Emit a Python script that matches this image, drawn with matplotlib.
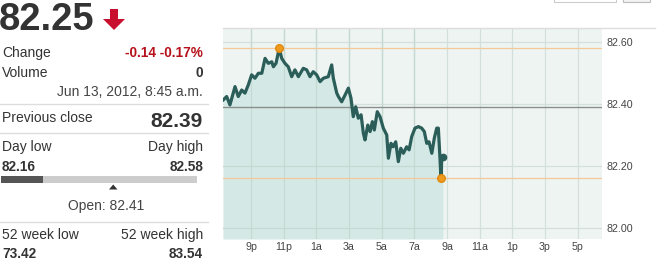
import matplotlib
matplotlib.use("Agg")
import matplotlib.pyplot as plt
from matplotlib.patches import Rectangle, Polygon
from matplotlib.lines import Line2D

plt.rcParams['font.family'] = ['Liberation Sans', 'DejaVu Sans']

# ---- data ----
hours = [19.30, 19.51, 19.71, 20.02, 20.22, 20.43, 20.63, 20.83, 21.04, 21.24,
         21.45, 21.66, 21.86, 22.06, 22.27, 22.37, 22.53, 22.73, 22.88, 23.08,
         23.28, 23.49, 23.69, 23.90, 24.20, 24.41, 24.61, 24.81, 25.02, 25.23,
         25.43, 25.73, 25.94, 26.04, 26.25, 26.35, 26.55, 26.76, 26.96, 27.12,
         27.26, 27.41, 27.57, 27.74, 27.88, 27.98, 28.15, 28.29, 28.43, 28.55,
         28.73, 28.90, 29.10, 29.31, 29.41, 29.57, 29.71, 29.86, 30.02, 30.17,
         30.33, 30.53, 30.68, 30.84, 31.04, 31.25, 31.45, 31.61, 31.76, 31.90,
         32.07, 32.22, 32.37, 32.47, 32.57, 32.63, 32.68, 32.75]
prices = [82.413, 82.424, 82.397, 82.456, 82.424, 82.445, 82.435, 82.461, 82.494, 82.483,
          82.499, 82.499, 82.547, 82.531, 82.536, 82.520, 82.531, 82.580, 82.547, 82.531,
          82.520, 82.488, 82.510, 82.488, 82.515, 82.510, 82.488, 82.504, 82.494, 82.472,
          82.483, 82.488, 82.526, 82.483, 82.435, 82.424, 82.407, 82.429, 82.451, 82.419,
          82.359, 82.391, 82.354, 82.365, 82.305, 82.284, 82.332, 82.311, 82.343, 82.316,
          82.375, 82.359, 82.322, 82.300, 82.225, 82.273, 82.262, 82.278, 82.214, 82.257,
          82.241, 82.262, 82.252, 82.295, 82.322, 82.327, 82.322, 82.311, 82.273, 82.278,
          82.241, 82.289, 82.322, 82.322, 82.225, 82.160, 82.230, 82.229]

last_price = "82.25"
change_text = "-0.14 -0.17%"
volume = "0"
timestamp = "Jun 13, 2012, 8:45 a.m."
prev_close = 82.39
day_low = 82.16
day_high = 82.58
open_price = 82.41
wk52_low = 73.42
wk52_high = 83.54
high_time = 22.73
low_time = 32.63

tick_hours = [21, 23, 25, 27, 29, 31, 33, 35, 37, 39, 41]
tick_labels = ["9p", "11p", "1a", "3a", "5a", "7a", "9a", "11a", "1p", "3p", "5p"]
y_ticks = [82.00, 82.20, 82.40, 82.60]

W, H = 668, 266
fig = plt.figure(figsize=(W / 100, H / 100), dpi=100)
fig.patch.set_facecolor("white")

def fx(px):
    return px / W

def fy(py):
    return 1 - py / H

TXT = "#333333"

def t(x, y, s, ha="left", size=10, bold=False, color=TXT):
    fig.text(fx(x), fy(y), s, fontsize=size, fontweight="bold" if bold else "normal",
             color=color, ha=ha, va="baseline")

# ---- left panel ----
t(-1, 30, last_price, size=27.5, bold=True)
arrow = Polygon([(fx(110), fy(9)), (fx(118), fy(9)), (fx(118), fy(19)), (fx(125), fy(19)),
                 (fx(114), fy(30)), (fx(103), fy(19)), (fx(110), fy(19))],
                closed=True, transform=fig.transFigure, facecolor="#c8102e", edgecolor="none")
fig.patches.append(arrow)

t(2, 57, "Change")
t(203, 57, change_text, ha="right", size=9.8, bold=True, color="#b5121b")
t(2, 77, "Volume")
t(203, 77, volume, ha="right", size=9.8, bold=True)
t(203, 96.5, timestamp, ha="right", color="#444444")

for yy in (104, 133, 221.5):
    fig.add_artist(Line2D([fx(0), fx(208)], [fy(yy), fy(yy)], color="#dddddd", lw=1,
                          transform=fig.transFigure))

t(2, 122, "Previous close")
t(203, 127, f"{prev_close:.2f}", ha="right", size=15, bold=True)

t(2, 151, "Day low")
t(203, 151, "Day high", ha="right")
t(2, 171, f"{day_low:.2f}", size=9.8, bold=True)
t(203, 171, f"{day_high:.2f}", ha="right", size=9.8, bold=True)

# day range bar
fig.patches.append(Rectangle((fx(1), fy(183)), fx(196), 7 / H,
                             transform=fig.transFigure, facecolor="#cccccc", edgecolor="none"))
fig.patches.append(Rectangle((fx(1), fy(183)), fx(42), 7 / H,
                             transform=fig.transFigure, facecolor="#555555", edgecolor="none"))
fig.patches.append(Polygon([(fx(109), fy(189.5)), (fx(117.5), fy(189.5)), (fx(113.2), fy(184.5))],
                           closed=True, transform=fig.transFigure, facecolor="#333333",
                           edgecolor="none"))
t(106, 210, f"Open: {open_price:.2f}", ha="center", color="#444444")

t(2, 239, "52 week low")
t(203, 239, "52 week high", ha="right")
t(2, 258.5, f"{wk52_low:.2f}", size=9.8, bold=True)
t(203, 258.5, f"{wk52_high:.2f}", ha="right", size=9.8, bold=True)

# cut-off UI pieces at top right
fig.patches.append(Rectangle((fx(554), fy(2)), fx(62), 4 / H, transform=fig.transFigure,
                             facecolor="white", edgecolor="#cccccc", lw=0.8))
fig.patches.append(Rectangle((fx(623), fy(2)), fx(27), 4 / H, transform=fig.transFigure,
                             facecolor="#f2f2f2", edgecolor="#bbbbbb", lw=0.8))
fig.add_artist(Line2D([fx(223), fx(655)], [fy(28), fy(28)], color="#dddddd", lw=1,
                      transform=fig.transFigure))

# ---- chart ----
ax = fig.add_axes([fx(223), 1 - 239 / H, fx(602 - 223), (239 - 28) / H])
ax.set_facecolor("#eef4f1")
ymin, ymax = 81.9645, 82.645
ax.set_xlim(19.285, 42.49)
ax.set_ylim(ymin, ymax)

for tt in tick_hours:
    ax.axvline(tt, color="#d3dfdb", lw=0.9, zorder=1)
for yv in y_ticks:
    ax.axhline(yv, color="#d3dfdb", lw=0.9, zorder=1)

ax.fill_between(hours, prices, ymin, color="#d4e9e5", lw=0, zorder=2)
for tt in tick_hours:
    if tt < hours[-1]:
        ax.plot([tt, tt], [ymin, ymax], color="#c5d9d4", lw=0.9, zorder=2.5)
for yv in y_ticks[:2]:
    ax.plot([hours[0] - 0.1, hours[-1]], [yv, yv], color="#c5d9d4", lw=0.9, zorder=2.5)

ax.axhline(day_high, color="#f3c998", lw=0.9, zorder=3)
ax.axhline(day_low, color="#f3c998", lw=0.9, zorder=3)
ax.axhline(prev_close, color="#8a8f8d", lw=1.0, zorder=3)

ax.plot(hours, prices, color="#2b5d59", lw=2.3, solid_joinstyle="round", zorder=4)
ax.plot([high_time], [day_high], "o", color="#ee9a1c", ms=5.5, mec="#e08a10", zorder=5)
ax.plot([low_time], [day_low], "o", color="#ee9a1c", ms=5.5, mec="#e08a10", zorder=5)
ax.plot([hours[-1]], [prices[-1]], "o", color="#2b5d59", ms=4.5, zorder=5)

ax.yaxis.tick_right()
ax.set_yticks(y_ticks)
ax.set_yticklabels([f"{v:.2f}" for v in y_ticks])
ax.set_xticks(tick_hours)
ax.set_xticklabels(tick_labels)
ax.tick_params(axis="both", length=0, labelsize=7.7, labelcolor="#444444")
ax.tick_params(axis="y", pad=3)
ax.tick_params(axis="x", pad=2.5)
for s in ax.spines.values():
    s.set_visible(False)

fig.savefig("out.png", dpi=100, facecolor="white")
